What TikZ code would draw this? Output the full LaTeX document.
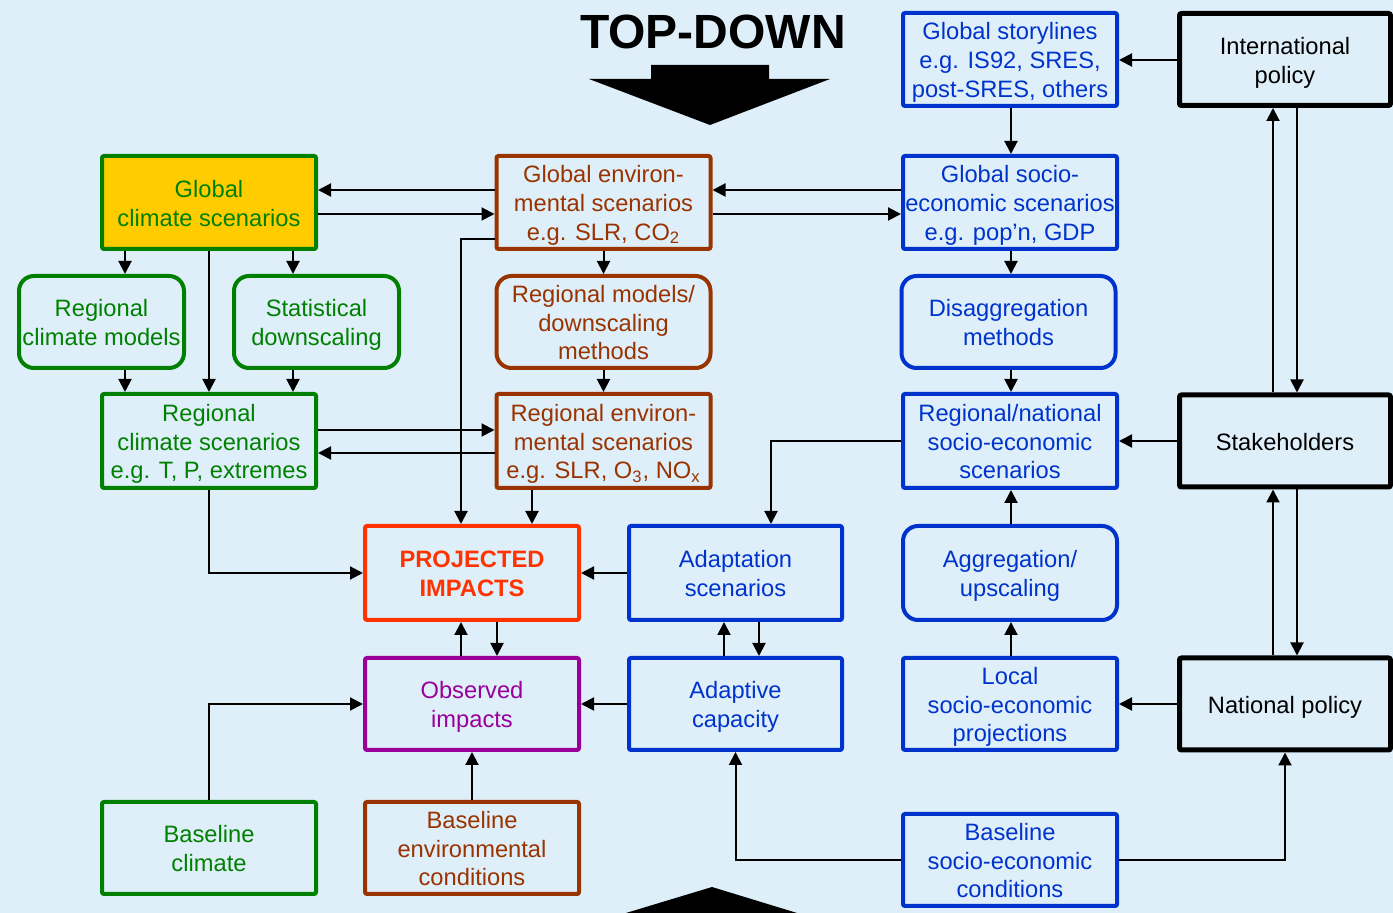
\documentclass[tikz,border=0pt]{standalone}
\usepackage{fontspec}
\setmainfont{Liberation Sans}
\usetikzlibrary{arrows.meta}
\definecolor{bgblue}{HTML}{DEEFFA}
\definecolor{cgreen}{HTML}{008000}
\definecolor{cbrown}{HTML}{993300}
\definecolor{cblue}{HTML}{0033CC}
\definecolor{cred}{HTML}{FF3300}
\definecolor{cpurple}{HTML}{990099}
\definecolor{cgold}{HTML}{FFCC00}
% full ascent for the first line of every box label
\newcommand\nodetop{\rule{0pt}{10.7pt}}
\begin{document}
\begin{tikzpicture}[x=0.5pt,y=-0.5pt,
  box/.style={draw=#1, text=#1, line width=2pt, fill=bgblue, rounded corners=1pt,
    align=center, inner sep=0pt, minimum width=107pt, minimum height=46.5pt,
    text depth=1.5pt, font=\fontsize{11.85pt}{14.35pt}\selectfont},
  rbox/.style={box=#1, rounded corners=7.5pt},
  kbox/.style={box=black, line width=2.5pt, minimum width=105.5pt, minimum height=46pt},
  arr/.style={-{Triangle[length=6.5pt,width=6.5pt]}, line width=1pt}
]
\useasboundingbox (0,0) rectangle (1393,913);
\fill[bgblue] (0,0) rectangle (1393,913);

% title and the big arrows
\node[anchor=base, inner sep=0pt, font=\fontsize{24pt}{24pt}\selectfont\bfseries] (title) at (713,49) {TOP-DOWN};
\fill (651,65) -- (769,65) -- (769,79) -- (830,79) -- (710,125) -- (589,79) -- (651,79) -- cycle;
\fill (626,913) -- (712,887) -- (797,913) -- cycle;

% climate column
\node[box=cgreen, fill=cgold] (gcs) at (209,202.5) {\nodetop Global\\climate scenarios};
\node[rbox=cgreen, minimum width=82.5pt, minimum height=46pt] (rcm) at (101.5,322) {\nodetop Regional\\climate models};
\node[rbox=cgreen, minimum width=82.5pt, minimum height=46pt] (sd) at (316.5,322) {\nodetop Statistical\\downscaling};
\node[box=cgreen, minimum height=47pt] (rcs) at (209,441) {\nodetop Regional\\climate scenarios\\e.g. T, P, extremes};
\node[box=cgreen, minimum height=46pt] (bc) at (209,848) {\nodetop Baseline\\climate};

% environmental column
\node[box=cbrown] (ges) at (603.5,202.5) {\nodetop Global environ-\\mental scenarios\\e.g. SLR, CO\textsubscript{2}};
\node[rbox=cbrown, minimum height=46pt] (rmd) at (603.5,322) {\nodetop Regional models/\\downscaling\\methods};
\node[box=cbrown, minimum height=47pt] (res) at (603.5,441) {\nodetop Regional environ-\\mental scenarios\\e.g. SLR, O\textsubscript{3}, NO\textsubscript{x}};
\node[box=cbrown, minimum height=46pt] (bec) at (472,848) {\nodetop Baseline\\environmental\\conditions};

% impacts
\node[box=cred, minimum height=47pt, font=\fontsize{11.85pt}{14.5pt}\selectfont\bfseries] (pi) at (472,573) {\nodetop PROJECTED\\IMPACTS};
\node[box=cpurple, minimum height=46pt] (oi) at (472,704) {\nodetop Observed\\impacts};

% adaptation
\node[box=cblue, minimum width=106.5pt, minimum height=47pt] (as) at (735.5,573) {\nodetop Adaptation\\scenarios};
\node[box=cblue, minimum width=106.5pt, minimum height=46pt] (ac) at (735.5,704) {\nodetop Adaptive\\capacity};

% socio-economic column
\node[box=cblue] (gst) at (1010,59.5) {\nodetop Global storylines\\e.g. IS92, SRES,\\post-SRES, others};
\node[box=cblue] (gse) at (1010,202.5) {\nodetop Global socio-\\economic scenarios\\e.g. pop'n, GDP};
\node[rbox=cblue, minimum height=46pt] (dm) at (1008.5,322) {\nodetop Disaggregation\\methods};
\node[box=cblue, minimum height=47pt] (rns) at (1010,441) {\nodetop Regional/national\\socio-economic\\scenarios};
\node[rbox=cblue, minimum height=47pt] (au) at (1010,573) {\nodetop Aggregation/\\upscaling};
\node[box=cblue, minimum height=46pt] (lsp) at (1010,704) {\nodetop Local\\socio-economic\\projections};
\node[box=cblue, minimum height=46pt] (bse) at (1010,860) {\nodetop Baseline\\socio-economic\\conditions};

% policy column
\node[kbox] (ip) at (1285,59.5) {\nodetop International\\policy};
\node[kbox] (st) at (1285,441) {\nodetop Stakeholders};
\node[kbox] (np) at (1285,704) {\nodetop National policy};

% connectors
\draw[arr] (ges.west |- 0,190) -- (gcs.east |- 0,190);
\draw[arr] (gcs.east |- 0,214) -- (ges.west |- 0,214);
\draw[arr] (gse.west |- 0,190) -- (ges.east |- 0,190);
\draw[arr] (ges.east |- 0,214) -- (gse.west |- 0,214);
\draw[arr] (ip.west |- 0,60) -- (gst.east |- 0,60);
\draw[arr] (gst.south -| 1011,0) -- (gse.north -| 1011,0);
\draw[arr] (gcs.south -| 125,0) -- (rcm.north -| 125,0);
\draw[arr] (gcs.south -| 293,0) -- (sd.north -| 293,0);
\draw[arr] (gcs.south) -- (rcs.north);
\draw[arr] (rcm.south -| 125,0) -- (rcs.north -| 125,0);
\draw[arr] (sd.south -| 293,0) -- (rcs.north -| 293,0);
\draw[arr] (ges.south) -- (rmd.north);
\draw[arr] (rmd.south) -- (res.north);
\draw[arr] (gse.south -| 1011,0) -- (dm.north -| 1011,0);
\draw[arr] (dm.south -| 1011,0) -- (rns.north -| 1011,0);
\draw[arr] (rcs.east |- 0,430) -- (res.west |- 0,430);
\draw[arr] (res.west |- 0,453) -- (rcs.east |- 0,453);
\draw[arr] (ges.west |- 0,239) -| (pi.north -| 461,0);
\draw[arr] (res.south -| 532,0) -- (pi.north -| 532,0);
\draw[arr] (rcs.south) |- (pi.west);
\draw[arr] (as.west) -- (pi.east);
\draw[arr] (rns.west) -| (as.north -| 771,0);
\draw[arr] (st.west) -- (rns.east);
\draw[arr] (st.north -| 1273,0) -- (ip.south -| 1273,0);
\draw[arr] (ip.south -| 1297,0) -- (st.north -| 1297,0);
\draw[arr] (np.north -| 1273,0) -- (st.south -| 1273,0);
\draw[arr] (st.south -| 1297,0) -- (np.north -| 1297,0);
\draw[arr] (au.north -| 1011,0) -- (rns.south -| 1011,0);
\draw[arr] (lsp.north -| 1011,0) -- (au.south -| 1011,0);
\draw[arr] (np.west) -- (lsp.east);
\draw[arr] (oi.north -| 461,0) -- (pi.south -| 461,0);
\draw[arr] (pi.south -| 497,0) -- (oi.north -| 497,0);
\draw[arr] (ac.north -| 724,0) -- (as.south -| 724,0);
\draw[arr] (as.south -| 759,0) -- (ac.north -| 759,0);
\draw[arr] (ac.west) -- (oi.east);
\draw[arr] (bc.north) |- (oi.west);
\draw[arr] (bec.north) -- (oi.south);
\draw[arr] (bse.west) -| (ac.south);
\draw[arr] (bse.east) -| (np.south);
\end{tikzpicture}
\end{document}
